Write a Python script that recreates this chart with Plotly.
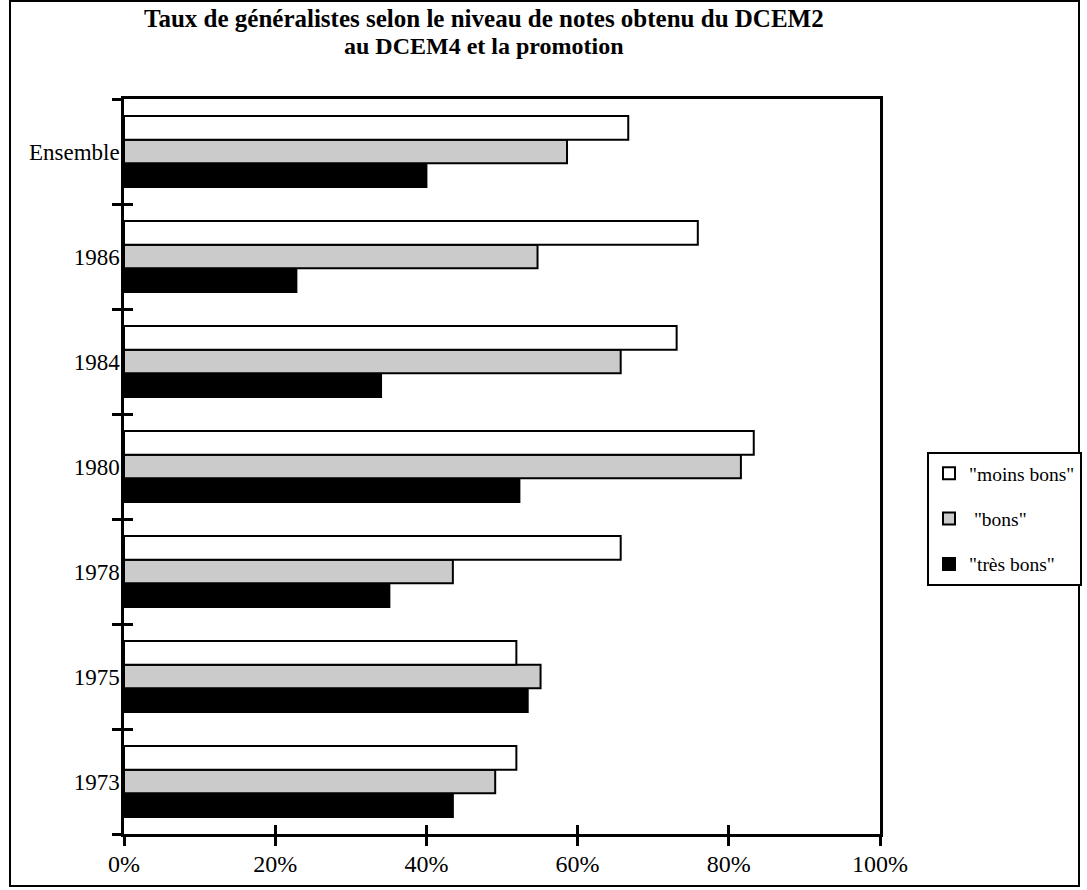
import plotly.graph_objects as go

# Categories, top to bottom as read on the chart
categories = ["Ensemble", "1986", "1984", "1980", "1978", "1975", "1973"]

# Share of general practitioners (%) by grade level
moins_bons = [66.7, 75.9, 73.1, 83.3, 65.7, 51.9, 51.9]
bons = [58.6, 54.7, 65.7, 81.6, 43.5, 55.1, 49.1]
tres_bons = [40.0, 22.8, 34.0, 52.3, 35.1, 53.4, 43.5]

series_names = ['"moins bons"', '\u00a0"bons"', '"très bons"']
series_colors = ["#ffffff", "#cbcbcb", "#000000"]

x_tickvals = [0, 20, 40, 60, 80, 100]
x_ticktext = ["0%", "20%", "40%", "60%", "80%", "100%"]

title_lines = ["Taux de généralistes selon le niveau de notes obtenu du DCEM2",
               "au DCEM4 et la promotion"]

FONT = "Liberation Serif"
W, H = 1087, 890
M = dict(l=124, r=207, t=99, b=56, autoexpand=False)

pw = W - M["l"] - M["r"]
ph = H - M["t"] - M["b"]
def px_x(v):
    return (v - M["l"]) / pw
def px_y(v):
    return (H - M["b"] - v) / ph

fig = go.Figure()

# Plotly stacks grouped horizontal bars bottom-up, so the lowest bar goes first
for name, vals, color, rank in [
    (series_names[2], tres_bons, series_colors[2], 3),
    (series_names[1], bons, series_colors[1], 2),
    (series_names[0], moins_bons, series_colors[0], 1),
]:
    fig.add_trace(go.Bar(
        x=vals, y=categories, orientation="h", name=name,
        marker=dict(color=color, line=dict(color="#000000", width=2)),
        legendrank=rank, legendgroup=name,
    ))

# empty trace that registers the overlay axes carrying the inner tick marks
fig.add_trace(go.Scatter(x=[], y=[], xaxis="x2", yaxis="y2",
                         showlegend=False, hoverinfo="skip"))

cat_bottom_up = categories[::-1]
n = len(categories)

fig.update_layout(
    width=W, height=H, margin=M,
    paper_bgcolor="white", plot_bgcolor="white",
    font=dict(family=FONT, color="black", size=24),
    barmode="group", bargap=0.325, bargroupgap=0,
    xaxis=dict(range=[0, 100], tickvals=x_tickvals, ticktext=x_ticktext,
               ticks="outside", ticklen=9, tickwidth=2.5, tickcolor="black",
               showline=True, linewidth=2.5, linecolor="black", mirror=True,
               showgrid=False, zeroline=False, ticklabelstandoff=-3,
               tickfont=dict(size=24)),
    yaxis=dict(type="category", categoryorder="array", categoryarray=cat_bottom_up,
               range=[-0.5, n - 0.5], ticks="outside", tickson="boundaries",
               ticklen=9, tickwidth=2.5, tickcolor="black",
               showline=True, linewidth=2.5, linecolor="black", mirror=True,
               showgrid=False, ticklabelstandoff=-3, tickfont=dict(size=23)),
    xaxis2=dict(overlaying="x", anchor="y", side="bottom", range=[0, 100],
                tickvals=x_tickvals, ticks="inside", ticklen=9, tickwidth=2.5,
                tickcolor="black", showticklabels=False, showline=False,
                showgrid=False, zeroline=False),
    yaxis2=dict(overlaying="y", anchor="x", side="left", range=[-0.5, n - 0.5],
                tick0=-0.5, dtick=1, ticks="inside", ticklen=9, tickwidth=2.5,
                tickcolor="black", showticklabels=False, showline=False,
                showgrid=False, zeroline=False),
    legend=dict(x=px_x(927), xanchor="left", y=px_y(519), yanchor="middle",
                bordercolor="black", borderwidth=2, bgcolor="white",
                font=dict(family=FONT, size=19.5, color="black"),
                tracegroupgap=17, traceorder="grouped"),
)

# two-line bold title
for line, ypx, fsize in zip(title_lines, [18, 46], [25, 24]):
    fig.add_annotation(text=line, xref="paper", yref="paper",
                       x=px_x(484), y=px_y(ypx), xanchor="center", yanchor="middle",
                       showarrow=False,
                       font=dict(family=FONT, size=fsize, color="black", weight="bold"))

# outer frame around the whole figure
fig.add_shape(type="rect", xref="paper", yref="paper",
              x0=px_x(10), x1=px_x(1079), y0=px_y(886), y1=px_y(1),
              line=dict(color="black", width=2), fillcolor="rgba(0,0,0,0)",
              layer="below")

fig.write_html("out.html")
